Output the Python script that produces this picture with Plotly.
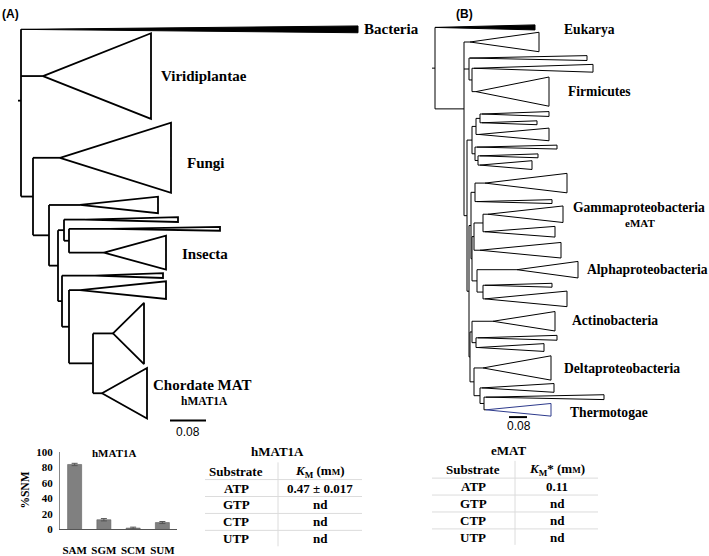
import plotly.graph_objects as go

W, H = 709, 556
SERIF = "Liberation Serif, Times New Roman, serif"
SANS = "Liberation Sans, Arial, sans-serif"

# ---------------- data ----------------
bar_categories = ["SAM", "SGM", "SCM", "SUM"]
bar_values = [83.5, 12.5, 1.8, 8.9]
bar_errors = [1.5, 1.5, 1.2, 1.3]
bar_yticks = [0, 20, 40, 60, 80, 100]

substrates = ["ATP", "GTP", "CTP", "UTP"]
km_hmat1a = ["0.47 ± 0.017", "nd", "nd", "nd"]
km_emat = ["0.11", "nd", "nd", "nd"]


# tree layout data: internal node N(depth, children); collapsed clade C(apex depth, tip depth, centre row, half width, kind)
def N(x, *children):
    return ("N", x, list(children))


def C(ax, tx, cy, hh, kind="open"):
    return ("C", ax, tx, cy, hh, kind)


tree_a = N(21,
           C(21, 358, 24, 3.5, "solid"),          # Bacteria
           C(43, 151, 72, 44),                    # Viridiplantae
           N(33,
             C(60, 171, 156, 36),                 # Fungi
             N(49,
               C(80, 158, 204.5, 8.5),
               N(58,
                 N(64,
                   C(85, 178, 219.5, 2.5),
                   N(69,
                     C(110, 220, 229, 2),
                     C(104, 166, 253.5, 17.5))),  # Insecta
                 N(62,
                   C(95, 163, 277, 2.5),
                   N(69,
                     C(80, 166, 292, 9),
                     N(93,
                       C(113, 144, 336.5, 31.5),
                       C(102, 147, 398, 26))))))))  # Chordate MAT

tree_b = N(435,
           C(435, 535, 22, 2.6, "solid"),         # Eukarya
           N(464,
             C(470, 539, 37, 10),
             N(469,
               C(470, 587, 53.5, 2.5),
               N(472,
                 C(474, 593, 64, 4),
                 C(476, 549, 88, 15))),             # Firmicutes
             N(467,
               N(472,
                 N(476,
                   N(480, C(482, 549, 111, 2.5), C(482, 537, 120, 2)),
                   C(479, 549, 132, 6.5)),
                 N(475,
                   C(477, 557, 145, 2),
                   N(478, C(480, 538, 154, 2), C(480, 532, 163.5, 4.5)))),
               N(469,
                 N(471,
                   N(475, C(485, 567, 182, 10), C(477, 552, 201, 2)),
                   N(472,
                     N(474,
                       N(483, C(488, 563, 214, 8.5), C(485, 555, 232, 5.5)),  # Gammaproteobacteria
                       C(480, 561, 251, 8)),
                     N(477,
                       C(517, 578, 271, 8.5),                                # Alphaproteobacteria
                       N(483, C(485, 552, 287, 2), C(485, 567, 301, 8))))),
                 N(470,
                   N(472,
                     C(493, 555, 324, 10),                                   # Actinobacteria
                     N(476, C(478, 557, 341, 2.5), C(478, 544, 351, 4))),
                   N(474,
                     C(483, 551, 372, 12.5),                                 # Deltaproteobacteria
                     N(480,
                       C(482, 554, 392.5, 4.5),
                       N(484, C(486, 604, 402, 2.5),
                         C(486, 551, 415, 6.5, "blue")))))))))              # Thermotogae

labels_a = [("Bacteria", 363, 24), ("Viridiplantae", 160, 72), ("Fungi", 186, 161),
            ("Insecta", 181, 255), ("Chordate MAT", 152, 390)]
labels_b = [("Eukarya", 563, 24), ("Firmicutes", 567, 88), ("Gammaproteobacteria", 572, 207),
            ("Alphaproteobacteria", 586, 271), ("Actinobacteria", 571, 323),
            ("Deltaproteobacteria", 563, 373), ("Thermotogae", 569, 418)]


# ---------------- tree drawing ----------------
def layout_tree(node, segs, polys):
    if node[0] == "C":
        _, ax, tx, cy, hh, kind = node
        polys.append((kind, [ax, tx, tx, ax], [cy, cy - hh, cy + hh, cy]))
        return ax, cy
    _, x, children = node
    ys = []
    for ch in children:
        cx, cy = layout_tree(ch, segs, polys)
        if cx != x:
            segs.append(([x, cx], [cy, cy]))
        ys.append(cy)
    segs.append(([x, x], [min(ys), max(ys)]))
    return x, sum(ys) / len(ys)


fig = go.Figure()


def add_tree(tree, lw):
    segs, polys = [], []
    rx, ry = layout_tree(tree, segs, polys)
    segs.append(([rx - 3, rx], [ry, ry]))
    xs, ys = [], []
    for sx, sy in segs:
        xs += sx + [None]
        ys += sy + [None]
    fig.add_trace(go.Scatter(x=xs, y=ys, mode="lines", line=dict(color="black", width=lw),
                             hoverinfo="skip", showlegend=False, xaxis="x", yaxis="y"))
    for kind, px, py in polys:
        if kind == "solid":
            fig.add_trace(go.Scatter(x=px, y=py, mode="lines", fill="toself", fillcolor="black",
                                     line=dict(color="black", width=1), hoverinfo="skip",
                                     showlegend=False, xaxis="x", yaxis="y"))
        else:
            col = "#2d3a8c" if kind == "blue" else "black"
            fig.add_trace(go.Scatter(x=px, y=py, mode="lines", line=dict(color=col, width=lw),
                                     hoverinfo="skip", showlegend=False, xaxis="x", yaxis="y"))


add_tree(tree_a, 1.8)
add_tree(tree_b, 1.0)

# scale bars
fig.add_trace(go.Scatter(x=[170, 206, None, 509, 527], y=[426, 426, None, 422.5, 422.5], mode="lines",
                         line=dict(color="black", width=2), hoverinfo="skip", showlegend=False,
                         xaxis="x", yaxis="y"))

anns = []


def ann(x, y, text, size, family=SERIF, xanchor="left", bold=True, **kw):
    anns.append(dict(x=x, y=y, xref="x", yref="y", text=("<b>%s</b>" % text) if bold else text,
                     showarrow=False, xanchor=xanchor, yanchor="middle", borderpad=0,
                     font=dict(family=family, size=size, color="black"), **kw))


for t, x, y in labels_a:
    ann(x, y, t, 15)
ann(204, 406, "hMAT1A", 11.5, xanchor="center")
for t, x, y in labels_b:
    ann(x, y, t, 13.6)
ann(640, 223, "eMAT", 11, xanchor="center")

ann(1, 8, "(A)", 12, family=SANS)
ann(455, 8, "(B)", 12, family=SANS)
ann(188, 438, "0.08", 12, family=SANS, xanchor="center", bold=False)
ann(519, 432, "0.08", 12, family=SANS, xanchor="center", bold=False)

# ---------------- bar chart ----------------
fig.add_trace(go.Bar(x=bar_categories, y=bar_values, width=0.48,
                     marker=dict(color="#808080", line=dict(color="#606060", width=0.6)),
                     error_y=dict(type="data", array=bar_errors, color="#555555", thickness=1, width=3),
                     xaxis="x2", yaxis="y2", showlegend=False, hoverinfo="skip"))
ann(114, 459, "hMAT1A", 11, xanchor="center")
ann(25, 498, "%SNM", 11.5, xanchor="center", textangle=-90)


# ---------------- tables ----------------
def add_table(title, title_xy, x0, x1, xdiv, col1_x, col2_x, head_y, row_h, header2, values):
    lx, ly = [], []
    for i in range(len(substrates)):
        yy = head_y + row_h * 0.5 + row_h * i
        lx += [x0, x1, None]
        ly += [yy, yy, None]
    lx += [xdiv, xdiv, None]
    ly += [head_y - 9, head_y + row_h * (len(substrates) + 0.5) - 1, None]
    fig.add_trace(go.Scatter(x=lx, y=ly, mode="lines", line=dict(color="#dcdcdc", width=1),
                             hoverinfo="skip", showlegend=False, xaxis="x", yaxis="y"))
    ann(title_xy[0], title_xy[1], title, 13, xanchor="center")
    ann(col1_x, head_y, "Substrate", 13, xanchor="center")
    ann(col2_x, head_y, header2, 13, xanchor="center")
    for i, (s, v) in enumerate(zip(substrates, values)):
        yy = head_y + row_h * (i + 1)
        ann(col1_x, yy, s, 13, xanchor="center")
        ann(col2_x, yy, v, 13, xanchor="center")


add_table("hMAT1A", (277, 458), 205, 362, 278, 236, 320, 478, 17.4,
          "<i>K</i><sub>M</sub> (m<span style='font-size:9px'>M</span>)", km_hmat1a)
add_table("eMAT", (508, 457), 432, 598, 515, 473, 557, 476.5, 17.4,
          "<i>K</i><sub>M</sub>* (m<span style='font-size:9px'>M</span>)", km_emat)

fig.update_layout(
    width=W, height=H, margin=dict(l=0, r=0, t=0, b=0),
    paper_bgcolor="white", plot_bgcolor="rgba(0,0,0,0)",
    xaxis=dict(domain=[0, 1], range=[0, W], visible=False, fixedrange=True),
    yaxis=dict(domain=[0, 1], range=[H, 0], visible=False, fixedrange=True),
    xaxis2=dict(domain=[60 / W, 177 / W], anchor="y2", showline=True, linecolor="#555555",
                linewidth=1, ticks="", showgrid=False, zeroline=False, ticklabelstandoff=10,
                tickfont=dict(family=SERIF, size=11, color="black", weight="bold")),
    yaxis2=dict(domain=[1 - 538 / H, 1 - 458 / H], anchor="x2", range=[0, 100],
                tickvals=bar_yticks, showline=True, linecolor="#888888", linewidth=1,
                ticks="", showgrid=False, zeroline=False, ticklabelstandoff=4,
                tickfont=dict(family=SERIF, size=11, color="black", weight="bold")),
    annotations=anns,
    bargap=0.5,
)

fig.write_html("out.html", post_script="document.body.style.margin='0px';",
               config={"displayModeBar": False})
